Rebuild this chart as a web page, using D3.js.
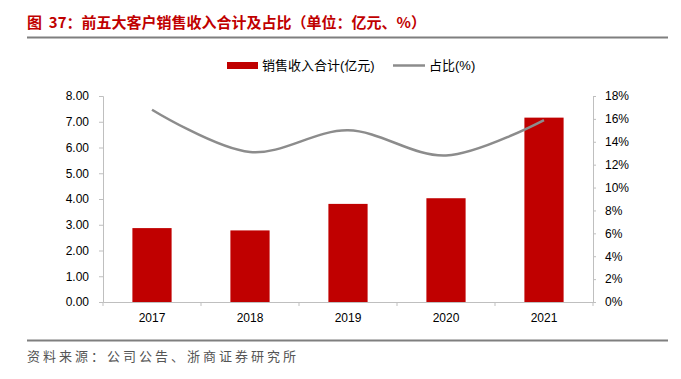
<!DOCTYPE html>
<html><head><meta charset="utf-8">
<script src="https://cdn.jsdelivr.net/npm/d3@7"></script>
<style>body{margin:0;background:#fff}svg{display:block}</style>
</head><body>
<svg id="c" width="681" height="379"></svg>
<script>
const categories = ["2017","2018","2019","2020","2021"];
const revenue = [2.87, 2.78, 3.81, 4.03, 7.16];
const share = [16.8, 13.1, 15.0, 12.8, 15.9];
const leftTicks = [0,1,2,3,4,5,6,7,8];
const rightTicks = [0,2,4,6,8,10,12,14,16,18];
const titleText = "图 37：前五大客户销售收入合计及占比（单位：亿元、%）";
const sourceText = "资料来源：公司公告、浙商证券研究所";
const legendLabels = ["销售收入合计(亿元)", "占比(%)"];

const svg = d3.select("#c");
const font = "'Liberation Sans', Arial, 'Noto Sans CJK SC', sans-serif";
const axisColor = "#bfbfbf";
const pL = 103, pR = 593, pT = 96, pB = 302;

// title
svg.append("text").attr("x",27).attr("y",28).attr("fill","#c00000")
  .attr("font-family","'Noto Sans CJK SC', sans-serif").attr("font-weight","bold")
  .attr("font-size",15).attr("xml:space","preserve").text(titleText.replace(" ", "  "));
svg.append("line").attr("x1",27).attr("x2",668).attr("y1",37.5).attr("y2",37.5)
  .attr("stroke","#7f7f7f").attr("stroke-width",2);
svg.append("line").attr("x1",27).attr("x2",668).attr("y1",340.5).attr("y2",340.5)
  .attr("stroke","#7f7f7f").attr("stroke-width",2);
svg.append("text").attr("x",27).attr("y",361).attr("fill","#555")
  .attr("font-family","'Noto Sans CJK SC', serif").attr("font-size",13)
  .attr("letter-spacing",3).text(sourceText);

const x = d3.scaleBand().domain(categories).range([pL,pR]).paddingInner(0.6).paddingOuter(0.3);
const xb = d3.scaleBand().domain(categories).range([pL,pR]);
const yL = d3.scaleLinear().domain([0,8]).range([pB,pT]);
const yR = d3.scaleLinear().domain([0,18]).range([pB,pT]);

// bars
svg.append("g").selectAll("rect").data(revenue).join("rect")
  .attr("x",(d,i)=>x(categories[i])).attr("width",x.bandwidth())
  .attr("y",d=>yL(d)).attr("height",d=>pB-yL(d)).attr("fill","#c00000");

// left axis
const gL = svg.append("g").attr("transform",`translate(${pL},0)`)
  .call(d3.axisLeft(yL).tickValues(leftTicks).tickFormat(d3.format(".2f")).tickSize(4).tickPadding(10));
// right axis
const gR = svg.append("g").attr("transform",`translate(${pR},0)`)
  .call(d3.axisRight(yR).tickValues(rightTicks).tickFormat(d=>d+"%").tickSize(3).tickPadding(9));
// x axis
const gX = svg.append("g").attr("transform",`translate(0,${pB})`)
  .call(d3.axisBottom(xb).tickSize(0).tickPadding(11));
// boundary ticks
svg.append("g").selectAll("line").data(d3.range(categories.length+1)).join("line")
  .attr("x1",i=>pL+i*xb.step()).attr("x2",i=>pL+i*xb.step())
  .attr("y1",pB).attr("y2",pB+4).attr("stroke",axisColor);

[gL,gR,gX].forEach(g=>{
  g.selectAll("path,line").attr("stroke",axisColor);
  g.selectAll("text").attr("font-family",font).attr("font-size",12).attr("fill","#000");
});

// line
const line = d3.line().x((d,i)=>xb(categories[i])+xb.bandwidth()/2).y(d=>yR(d))
  .curve(d3.curveCatmullRom.alpha(0.5));
svg.append("path").datum(share).attr("d",line).attr("fill","none")
  .attr("stroke","#8c8c8c").attr("stroke-width",2.5);

// legend
const lg = svg.append("g");
lg.append("rect").attr("x",227).attr("y",62).attr("width",31).attr("height",7).attr("fill","#c00000");
lg.append("text").attr("x",262).attr("y",70).attr("font-family",font).attr("font-size",13).text(legendLabels[0]);
lg.append("line").attr("x1",393).attr("x2",425).attr("y1",65.5).attr("y2",65.5).attr("stroke","#8c8c8c").attr("stroke-width",2.5);
lg.append("text").attr("x",429).attr("y",70).attr("font-family",font).attr("font-size",13).text(legendLabels[1]);
</script>
</body></html>
